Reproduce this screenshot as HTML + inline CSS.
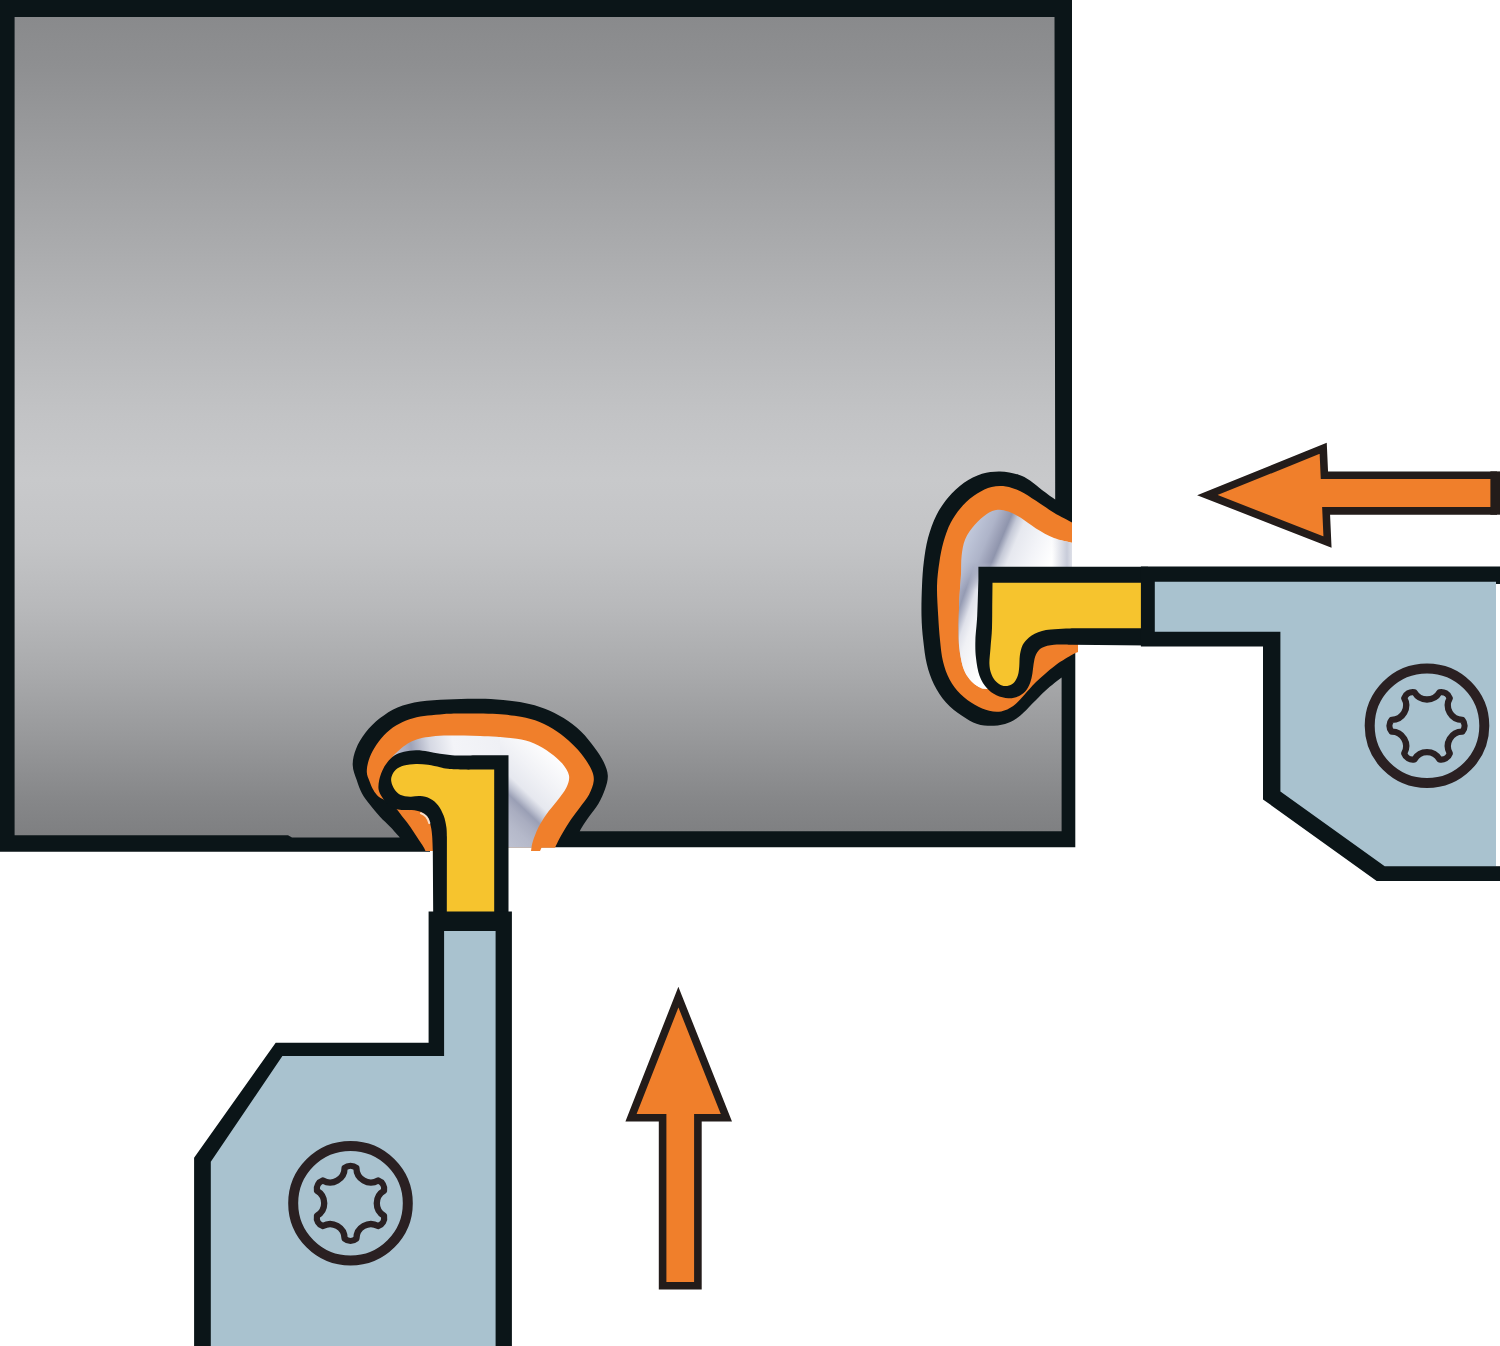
<!DOCTYPE html>
<html><head><meta charset="utf-8"><title>Grooving illustration</title>
<style>
html,body{margin:0;padding:0;background:#ffffff;}
body{width:1500px;height:1346px;overflow:hidden;font-family:"Liberation Sans",sans-serif;}
svg{display:block;}
</style></head>
<body>
<svg width="1500" height="1346" viewBox="0 0 1500 1346">
<defs>
<linearGradient id="wp" gradientUnits="userSpaceOnUse" x1="0" y1="17" x2="0" y2="836"><stop offset="0" stop-color="#898a8c"/><stop offset="0.057" stop-color="#8e8f91"/><stop offset="0.214" stop-color="#a2a3a5"/><stop offset="0.37" stop-color="#b5b6b8"/><stop offset="0.486" stop-color="#c2c3c5"/><stop offset="0.564" stop-color="#c8c9cb"/><stop offset="0.642" stop-color="#c3c4c6"/><stop offset="0.72" stop-color="#b8b9bb"/><stop offset="0.80" stop-color="#a9aaac"/><stop offset="0.877" stop-color="#98999b"/><stop offset="0.955" stop-color="#868789"/><stop offset="1" stop-color="#7e7f81"/></linearGradient>
<linearGradient id="shR" gradientUnits="userSpaceOnUse" x1="960" y1="520" x2="1052.2" y2="558.7"><stop offset="0" stop-color="#ccd4e5"/><stop offset="0.15" stop-color="#bfc6d9"/><stop offset="0.32" stop-color="#aeb4c9"/><stop offset="0.41" stop-color="#9a9fb6"/><stop offset="0.455" stop-color="#8f95ad"/><stop offset="0.52" stop-color="#c5c9d7"/><stop offset="0.60" stop-color="#e6e8ef"/><stop offset="0.8" stop-color="#f3f4f8"/><stop offset="1" stop-color="#ffffff"/></linearGradient>
<linearGradient id="shRl" gradientUnits="userSpaceOnUse" x1="955" y1="590" x2="1002.2" y2="606.45"><stop offset="0" stop-color="#b4bbd0"/><stop offset="0.1" stop-color="#a4aac1"/><stop offset="0.2" stop-color="#959bb3"/><stop offset="0.3" stop-color="#b9bdce"/><stop offset="0.4" stop-color="#dfe1ea"/><stop offset="0.55" stop-color="#f0f1f5"/><stop offset="1" stop-color="#ffffff"/></linearGradient>
<linearGradient id="shR2" gradientUnits="userSpaceOnUse" x1="1052" y1="0" x2="1072" y2="0"><stop offset="0" stop-color="#c2c6d5" stop-opacity="0"/><stop offset="0.75" stop-color="#c2c6d5" stop-opacity="0.9"/><stop offset="1" stop-color="#d5d8e2" stop-opacity="0.8"/></linearGradient>
<linearGradient id="shB" gradientUnits="userSpaceOnUse" x1="560" y1="755" x2="491.2" y2="827.5"><stop offset="0" stop-color="#ffffff"/><stop offset="0.3" stop-color="#f1f2f6"/><stop offset="0.5" stop-color="#e6e8ef"/><stop offset="0.58" stop-color="#bfc3d2"/><stop offset="0.64" stop-color="#9a9fb5"/><stop offset="0.72" stop-color="#a9adc0"/><stop offset="0.85" stop-color="#b5b9ca"/><stop offset="1" stop-color="#bcc0d0"/></linearGradient>
<linearGradient id="shBt" gradientUnits="userSpaceOnUse" x1="385" y1="760" x2="500" y2="740"><stop offset="0" stop-color="#cfd4e2"/><stop offset="0.14" stop-color="#b0b5c8"/><stop offset="0.24" stop-color="#9ea3b8"/><stop offset="0.40" stop-color="#d5d8e3"/><stop offset="0.6" stop-color="#f3f4f8"/><stop offset="1" stop-color="#eff0f5"/></linearGradient>
</defs>
<path fill="#0b1518" d="M0 0 L1072 0 L1072 600 L1075.3 600 L1075.3 847.3 L430 847.2 L430 851.8 L0 851.8 Z"/>
<path fill="url(#wp)" d="M14.6 17 L1054.5 17 L1055.2 499.6 C1053.0 498.0 1046.2 493.2 1042.0 490.0 C1037.8 486.8 1034.0 483.0 1030.0 480.4 C1026.0 477.8 1023.0 475.9 1018.0 474.4 C1013.0 472.9 1006.0 471.5 1000.0 471.4 C994.0 471.3 988.0 471.9 982.0 473.8 C976.0 475.7 969.6 478.9 964.0 482.8 C958.4 486.7 953.0 491.8 948.4 497.2 C943.8 502.6 939.8 508.4 936.4 515.2 C933.0 522.0 930.1 530.2 928.0 538.0 C925.9 545.8 924.8 554.0 923.8 562.0 C922.8 570.0 922.4 577.0 922.0 586.0 C921.6 595.0 921.3 607.0 921.5 616.0 C921.7 625.0 922.3 632.0 923.2 640.0 C924.1 648.0 925.0 656.6 926.8 664.0 C928.6 671.4 930.8 678.0 934.0 684.4 C937.2 690.8 941.4 697.2 946.0 702.4 C950.6 707.6 956.4 712.0 961.6 715.6 C966.8 719.2 971.8 722.3 977.2 724.0 C982.6 725.7 988.8 726.0 994.0 725.8 C999.2 725.6 1004.0 724.5 1008.4 722.8 C1012.8 721.1 1016.4 718.8 1020.4 715.6 C1024.4 712.4 1028.2 707.8 1032.4 703.6 C1036.6 699.4 1040.7 694.8 1045.6 690.4 C1050.5 686.0 1058.9 679.6 1061.6 677.5 L1061.6 831.2 L579.7 831.2 C581.0 828.5 584.6 822.9 587.7 818.4 C590.8 813.9 595.5 808.6 598.4 803.7 C601.3 798.8 603.5 793.7 605.1 789.0 C606.7 784.3 608.0 780.1 607.8 775.6 C607.6 771.1 606.0 766.9 603.8 762.2 C601.6 757.5 598.2 752.6 594.4 747.5 C590.6 742.4 586.1 736.4 581.0 731.5 C575.9 726.6 569.6 721.9 563.6 718.1 C557.6 714.3 551.6 711.3 544.9 708.7 C538.2 706.1 531.5 704.2 523.5 702.7 C515.5 701.2 505.1 700.1 496.8 699.4 C488.5 698.7 482.1 698.7 473.8 698.7 C465.5 698.7 455.9 699.0 447.0 699.4 C438.1 699.8 428.6 700.1 420.3 701.4 C412.1 702.7 404.2 704.6 397.5 707.4 C390.8 710.2 385.5 713.9 380.1 718.1 C374.8 722.3 369.4 727.7 365.4 732.8 C361.4 737.9 358.1 743.5 356.0 748.9 C353.9 754.2 352.6 759.7 352.7 764.9 C352.8 770.1 355.1 775.2 356.7 780.0 C358.2 784.8 359.8 789.3 362.0 793.4 C364.2 797.5 367.0 800.9 370.0 804.8 C373.0 808.7 376.6 813.1 380.0 816.8 C383.4 820.5 386.8 823.3 390.1 826.8 C393.4 830.2 398.2 835.7 399.8 837.5 L292 837.5 L288 835.2 L14.6 835.2 Z"/>
<path fill="#f07f2b" d="M1072.0 522.4 C1069.0 520.8 1060.0 516.4 1054.0 512.8 C1048.0 509.2 1041.6 504.4 1036.0 500.8 C1030.4 497.2 1025.4 493.6 1020.4 491.2 C1015.4 488.8 1010.8 487.1 1006.0 486.4 C1001.2 485.7 996.4 485.8 991.6 487.0 C986.8 488.2 982.0 490.5 977.2 493.6 C972.4 496.7 967.2 500.8 962.8 505.6 C958.4 510.4 954.0 516.4 950.8 522.4 C947.6 528.4 945.5 535.0 943.6 541.6 C941.7 548.2 940.5 554.6 939.4 562.0 C938.3 569.4 937.2 577.0 937.0 586.0 C936.8 595.0 937.7 607.0 938.2 616.0 C938.7 625.0 939.2 632.4 940.0 640.0 C940.8 647.6 941.4 655.0 943.0 661.6 C944.6 668.2 946.7 674.2 949.6 679.6 C952.5 685.0 956.2 689.8 960.4 694.0 C964.6 698.2 970.0 702.0 974.8 704.8 C979.6 707.6 984.8 709.7 989.2 710.8 C993.6 711.9 997.2 712.2 1001.2 711.4 C1005.2 710.6 1009.4 708.7 1013.2 706.0 C1017.0 703.3 1020.2 699.2 1024.0 695.2 C1027.8 691.2 1031.0 686.8 1036.0 682.0 C1041.0 677.2 1048.2 670.8 1054.0 666.4 C1059.8 662.0 1066.8 658.0 1070.8 655.6 C1074.8 653.2 1076.8 652.6 1078.0 652.0 L1078 600 L1072 600 Z"/>
<path fill="#f07f2b" d="M425.5 851.0 C425.2 850.3 424.9 849.3 423.5 846.9 C422.1 844.5 419.0 840.1 416.8 836.8 C414.6 833.4 412.4 829.9 410.2 826.8 C408.0 823.7 405.9 821.1 403.5 818.1 C401.1 815.1 398.8 811.3 396.0 808.5 C393.2 805.7 389.9 803.5 387.0 801.5 C384.1 799.5 381.0 798.6 378.7 796.7 C376.4 794.8 374.9 792.6 373.4 790.0 C371.8 787.4 370.5 784.0 369.4 781.0 C368.3 778.0 366.9 775.5 366.8 772.0 C366.7 768.5 367.5 764.0 368.8 760.0 C370.1 756.0 371.9 752.1 374.4 748.0 C376.9 743.9 380.4 738.9 384.0 735.2 C387.6 731.5 391.7 728.3 396.0 725.6 C400.3 722.9 404.9 720.8 409.6 719.2 C414.3 717.6 418.9 716.8 424.0 716.0 C429.1 715.2 434.0 714.8 440.0 714.4 C446.0 714.0 450.5 713.6 460.0 713.6 C469.5 713.6 486.7 713.6 496.8 714.1 C506.9 714.6 513.7 715.5 520.8 716.8 C527.9 718.1 533.6 719.6 539.6 722.1 C545.6 724.6 551.6 727.9 557.0 731.5 C562.4 735.1 567.2 739.3 571.7 743.5 C576.2 747.7 580.4 752.4 583.7 756.9 C587.0 761.4 590.0 766.3 591.7 770.3 C593.4 774.3 594.1 777.0 593.7 781.0 C593.3 785.0 591.4 789.9 589.1 794.4 C586.8 798.9 583.1 803.0 579.7 807.7 C576.4 812.4 572.1 817.7 569.0 822.4 C565.9 827.1 563.2 831.8 561.0 835.8 C558.8 839.8 556.6 844.5 555.6 846.5 C554.6 848.5 555.3 847.3 555.2 847.5 L541.5 847.8 L540 851 L531 851 L531.5 847.3 L433 847.3 L433 851 Z"/>
<linearGradient id="mRg" gradientUnits="userSpaceOnUse" x1="0" y1="562" x2="0" y2="590"><stop offset="0" stop-color="#000"/><stop offset="1" stop-color="#fff"/></linearGradient>
<mask id="mR" maskUnits="userSpaceOnUse" x="900" y="480" width="200" height="260"><rect x="900" y="480" width="200" height="260" fill="url(#mRg)"/></mask>
<path fill="url(#shR)" d="M1072.0 542.8 C1069.0 542.0 1060.0 540.4 1054.0 538.0 C1048.0 535.6 1041.6 531.8 1036.0 528.4 C1030.4 525.0 1025.0 520.4 1020.4 517.6 C1015.8 514.8 1012.2 512.9 1008.4 511.6 C1004.6 510.3 1001.2 509.4 997.6 509.8 C994.0 510.2 990.6 511.5 986.8 514.0 C983.0 516.5 978.4 520.6 974.8 524.8 C971.2 529.0 967.4 534.0 965.2 539.2 C963.0 544.4 962.3 550.2 961.6 556.0 C960.9 561.8 961.3 568.0 961.0 574.0 C960.7 580.0 960.1 587.0 959.8 592.0 C959.5 597.0 959.4 598.0 959.2 604.0 C959.0 610.0 958.6 620.8 958.6 628.0 C958.6 635.2 958.5 640.8 959.2 647.2 C959.9 653.6 961.3 661.4 962.8 666.4 C964.3 671.4 966.0 674.0 968.0 677.0 C970.0 680.0 972.7 682.6 975.0 684.5 C977.3 686.4 980.8 687.8 982.0 688.5 L988 689 L985 600 L1072 600 Z"/>
<path fill="url(#shRl)" mask="url(#mR)" d="M1072.0 542.8 C1069.0 542.0 1060.0 540.4 1054.0 538.0 C1048.0 535.6 1041.6 531.8 1036.0 528.4 C1030.4 525.0 1025.0 520.4 1020.4 517.6 C1015.8 514.8 1012.2 512.9 1008.4 511.6 C1004.6 510.3 1001.2 509.4 997.6 509.8 C994.0 510.2 990.6 511.5 986.8 514.0 C983.0 516.5 978.4 520.6 974.8 524.8 C971.2 529.0 967.4 534.0 965.2 539.2 C963.0 544.4 962.3 550.2 961.6 556.0 C960.9 561.8 961.3 568.0 961.0 574.0 C960.7 580.0 960.1 587.0 959.8 592.0 C959.5 597.0 959.4 598.0 959.2 604.0 C959.0 610.0 958.6 620.8 958.6 628.0 C958.6 635.2 958.5 640.8 959.2 647.2 C959.9 653.6 961.3 661.4 962.8 666.4 C964.3 671.4 966.0 674.0 968.0 677.0 C970.0 680.0 972.7 682.6 975.0 684.5 C977.3 686.4 980.8 687.8 982.0 688.5 L988 689 L985 600 L1072 600 Z"/>
<path fill="url(#shR2)" d="M1072.0 542.8 C1069.0 542.0 1060.0 540.4 1054.0 538.0 C1048.0 535.6 1041.6 531.8 1036.0 528.4 C1030.4 525.0 1025.0 520.4 1020.4 517.6 C1015.8 514.8 1012.2 512.9 1008.4 511.6 C1004.6 510.3 1001.2 509.4 997.6 509.8 C994.0 510.2 990.6 511.5 986.8 514.0 C983.0 516.5 978.4 520.6 974.8 524.8 C971.2 529.0 967.4 534.0 965.2 539.2 C963.0 544.4 962.3 550.2 961.6 556.0 C960.9 561.8 961.3 568.0 961.0 574.0 C960.7 580.0 960.1 587.0 959.8 592.0 C959.5 597.0 959.4 598.0 959.2 604.0 C959.0 610.0 958.6 620.8 958.6 628.0 C958.6 635.2 958.5 640.8 959.2 647.2 C959.9 653.6 961.3 661.4 962.8 666.4 C964.3 671.4 966.0 674.0 968.0 677.0 C970.0 680.0 972.7 682.6 975.0 684.5 C977.3 686.4 980.8 687.8 982.0 688.5 L988 689 L985 600 L1072 600 Z"/>
<clipPath id="cBt"><rect x="370" y="700" width="131" height="160"/></clipPath>
<clipPath id="cBr"><rect x="500" y="700" width="100" height="160"/></clipPath>
<path fill="url(#shBt)" clip-path="url(#cBt)" d="M392.0 758.0 C392.4 757.4 392.8 756.3 394.4 754.6 C396.0 752.9 399.1 750.0 401.6 748.0 C404.1 746.0 406.5 744.0 409.6 742.4 C412.7 740.8 416.3 739.4 420.0 738.4 C423.7 737.4 427.3 736.9 432.0 736.4 C436.7 735.9 442.7 735.7 448.0 735.6 C453.3 735.5 458.7 735.5 464.0 735.6 C469.3 735.7 474.5 735.8 480.0 736.0 C485.5 736.2 490.7 736.3 496.8 736.8 C502.9 737.3 510.6 737.7 516.8 738.8 C523.0 739.9 528.6 741.1 534.2 743.5 C539.8 745.9 545.6 749.5 550.3 752.9 C555.0 756.2 559.2 759.8 562.3 763.6 C565.4 767.4 568.3 771.6 569.0 775.6 C569.7 779.6 568.3 783.5 566.3 787.7 C564.3 791.9 560.3 796.5 557.0 801.0 C553.7 805.5 549.4 809.9 546.3 814.4 C543.2 818.9 540.4 823.3 538.2 827.8 C536.0 832.3 534.0 837.9 532.9 841.2 C531.8 844.5 531.7 846.5 531.5 847.5 L500 847.5 L500 770 L400 770 Z"/>
<path fill="url(#shB)" clip-path="url(#cBr)" d="M392.0 758.0 C392.4 757.4 392.8 756.3 394.4 754.6 C396.0 752.9 399.1 750.0 401.6 748.0 C404.1 746.0 406.5 744.0 409.6 742.4 C412.7 740.8 416.3 739.4 420.0 738.4 C423.7 737.4 427.3 736.9 432.0 736.4 C436.7 735.9 442.7 735.7 448.0 735.6 C453.3 735.5 458.7 735.5 464.0 735.6 C469.3 735.7 474.5 735.8 480.0 736.0 C485.5 736.2 490.7 736.3 496.8 736.8 C502.9 737.3 510.6 737.7 516.8 738.8 C523.0 739.9 528.6 741.1 534.2 743.5 C539.8 745.9 545.6 749.5 550.3 752.9 C555.0 756.2 559.2 759.8 562.3 763.6 C565.4 767.4 568.3 771.6 569.0 775.6 C569.7 779.6 568.3 783.5 566.3 787.7 C564.3 791.9 560.3 796.5 557.0 801.0 C553.7 805.5 549.4 809.9 546.3 814.4 C543.2 818.9 540.4 823.3 538.2 827.8 C536.0 832.3 534.0 837.9 532.9 841.2 C531.8 844.5 531.7 846.5 531.5 847.5 L500 847.5 L500 770 L400 770 Z"/>
<path fill="#0b1518" d="M1148 566.8 L978.4 566.8 L978.4 580 C978.2 586.0 977.7 606.0 977.2 616.0 C976.7 626.0 975.6 633.0 975.4 640.0 C975.2 647.0 975.3 652.0 976.0 658.0 C976.7 664.0 977.8 671.0 979.6 676.0 C981.4 681.0 984.0 684.8 986.8 688.0 C989.6 691.2 992.8 693.5 996.4 695.2 C1000.0 696.9 1004.8 698.0 1008.4 698.2 C1012.0 698.4 1015.2 697.5 1018.0 696.4 C1020.8 695.3 1023.2 693.8 1025.2 691.6 C1027.2 689.4 1028.8 686.2 1030.0 683.2 C1031.2 680.2 1031.8 676.8 1032.4 673.6 C1033.0 670.4 1033.0 667.2 1033.6 664.0 C1034.2 660.8 1034.6 657.1 1036.0 654.4 C1037.4 651.7 1039.0 649.4 1042.0 647.8 C1045.0 646.2 1049.0 645.3 1054.0 644.8 C1059.0 644.3 1069.0 644.8 1072.0 644.8 L1148 645.5 Z"/>
<path fill="#f6c42e" d="M1141 582.8 L992.5 582.8 L992.3 600 C992.2 604.7 992.3 620.0 992.0 628.0 C991.7 636.0 990.9 642.1 990.5 648.0 C990.1 653.9 989.3 659.2 989.4 663.4 C989.5 667.6 990.1 670.1 991.0 673.0 C991.9 675.9 993.2 678.4 995.0 680.5 C996.8 682.6 999.7 684.7 1002.0 685.5 C1004.3 686.3 1006.9 686.1 1009.0 685.5 C1011.1 684.9 1013.0 683.8 1014.5 682.0 C1016.0 680.2 1017.2 677.7 1018.0 675.0 C1018.8 672.3 1019.0 669.2 1019.3 666.0 C1019.6 662.8 1019.4 659.0 1019.8 656.0 C1020.2 653.0 1020.8 650.2 1021.5 648.0 C1022.2 645.8 1023.0 644.4 1024.3 642.6 C1025.5 640.9 1027.3 639.0 1029.0 637.5 C1030.7 636.0 1032.5 634.8 1034.7 633.7 C1036.9 632.6 1039.3 631.7 1042.0 631.0 C1044.7 630.3 1047.0 630.0 1051.0 629.6 C1055.0 629.2 1061.2 628.8 1066.0 628.6 C1070.8 628.4 1077.7 628.3 1080.0 628.3 L1141 628.3 Z"/>
<path fill="#0b1518" d="M508.5 915 L508.5 755.2 L480 755.3 C477.3 755.3 468.7 755.5 464.0 755.5 C459.3 755.5 456.0 755.5 452.0 755.2 C448.0 754.9 444.0 754.4 440.0 753.8 C436.0 753.2 432.0 752.0 428.0 751.4 C424.0 750.8 420.0 750.1 416.0 750.2 C412.0 750.3 407.6 750.9 404.0 751.8 C400.4 752.7 397.2 753.8 394.4 755.6 C391.6 757.4 389.2 759.9 387.2 762.4 C385.2 764.9 383.7 767.5 382.4 770.4 C381.1 773.3 379.8 776.8 379.2 780.0 C378.6 783.2 378.1 786.7 378.6 789.5 C379.1 792.3 380.6 794.7 382.0 797.0 C383.4 799.3 385.1 801.6 387.0 803.5 C388.9 805.4 391.2 807.2 393.4 808.3 C395.6 809.3 397.8 809.5 400.0 809.8 C402.2 810.1 404.0 809.9 406.8 810.1 C409.6 810.3 414.0 810.2 416.8 810.8 C419.6 811.3 421.6 812.2 423.5 813.4 C425.4 814.6 427.0 815.9 428.2 818.1 C429.4 820.3 430.2 823.7 430.9 826.8 C431.6 829.9 431.9 832.9 432.2 836.8 C432.5 840.7 432.7 848.0 432.8 850.2 L433.2 915 Z"/>
<path fill="#f6c42e" d="M494.2 917.2 L494.2 769.4 L475 769.6 C473.2 769.6 468.5 769.7 464.0 769.6 C459.5 769.5 452.0 769.2 448.0 768.8 C444.0 768.4 443.3 767.9 440.0 767.2 C436.7 766.5 432.0 765.3 428.0 764.8 C424.0 764.3 420.0 763.9 416.0 764.0 C412.0 764.1 407.3 764.7 404.0 765.6 C400.7 766.5 398.0 767.9 396.0 769.6 C394.0 771.3 392.6 773.9 391.8 776.0 C391.0 778.1 391.0 779.9 391.4 782.0 C391.8 784.1 392.7 786.6 394.1 788.7 C395.6 790.8 397.4 793.4 400.1 794.7 C402.8 796.0 406.9 796.5 410.2 796.7 C413.5 796.9 416.9 795.8 420.2 796.1 C423.5 796.4 427.2 797.2 430.2 798.7 C433.2 800.2 436.0 802.6 438.2 805.4 C440.4 808.2 442.2 811.9 443.6 815.5 C445.0 819.1 445.8 823.2 446.3 826.8 C446.9 830.3 446.8 835.1 446.9 836.8 L446.8 917.2 Z"/>
<path d="M421 813.3 Q427.2 815.2 429.3 823" fill="none" stroke="#ffffff" stroke-opacity="0.75" stroke-width="2.2" stroke-linecap="round"/>
<path fill="#0b1518" d="M428.6 911.5 L511.9 911.5 L511.9 1346 L194.1 1346 L194.1 1157.8 L275.7 1042.7 L428.6 1042.7 Z"/>
<path fill="#a9c2cf" d="M444.1 931.1 L495.6 931.1 L495.6 1346 L210.8 1346 L210.8 1161.8 L282.4 1056.1 L444.1 1056.1 Z"/>
<path fill="#0b1518" d="M1140.9 566.5 L1500 566.5 L1500 881 L1376.7 881 L1263 799.4 L1263 646.4 L1140.9 646.4 Z"/>
<path fill="#a9c2cf" d="M1154.8 581.8 L1496 581.8 L1496 866.2 L1384.7 866.2 L1280.4 791.4 L1280.4 631.7 L1154.8 631.7 Z"/>
<rect x="1496" y="584" width="4" height="282.2" fill="#ffffff"/>
<circle cx="1427" cy="725.8" r="57.3" fill="none" stroke="#2a2022" stroke-width="10"/>
<path d="M1462.31 719.89 A9.00 9.00 0 0 1 1462.31 731.71 A14.48 14.48 0 0 0 1449.77 753.42 A9.00 9.00 0 0 1 1439.54 759.33 A14.48 14.48 0 0 0 1414.46 759.33 A9.00 9.00 0 0 1 1404.23 753.42 A14.48 14.48 0 0 0 1391.69 731.71 A9.00 9.00 0 0 1 1391.69 719.89 A14.48 14.48 0 0 0 1404.23 698.18 A9.00 9.00 0 0 1 1414.46 692.27 A14.48 14.48 0 0 0 1439.54 692.27 A9.00 9.00 0 0 1 1449.77 698.18 A14.48 14.48 0 0 0 1462.31 719.89 Z" fill="none" stroke="#2a2022" stroke-width="6.3" stroke-linejoin="round"/>
<circle cx="350.5" cy="1203.3" r="57.3" fill="none" stroke="#2a2022" stroke-width="10"/>
<path d="M384.03 1215.84 A9.00 9.00 0 0 1 378.12 1226.07 A14.48 14.48 0 0 0 356.41 1238.61 A9.00 9.00 0 0 1 344.59 1238.61 A14.48 14.48 0 0 0 322.88 1226.07 A9.00 9.00 0 0 1 316.97 1215.84 A14.48 14.48 0 0 0 316.97 1190.76 A9.00 9.00 0 0 1 322.88 1180.53 A14.48 14.48 0 0 0 344.59 1167.99 A9.00 9.00 0 0 1 356.41 1167.99 A14.48 14.48 0 0 0 378.12 1180.53 A9.00 9.00 0 0 1 384.03 1190.76 A14.48 14.48 0 0 0 384.03 1215.84 Z" fill="none" stroke="#2a2022" stroke-width="6.3" stroke-linejoin="round"/>
<path d="M678.4 997.1 L726.4 1117.8 L697.9 1117.8 L697.9 1285.8 L662.6 1285.8 L662.6 1117.8 L631 1117.8 Z" fill="#f07f2b" stroke="#231c1a" stroke-width="7.6" stroke-linejoin="miter" stroke-miterlimit="10"/>
<path d="M1497 475.2 L1324.4 475.2 L1323.2 448.3 L1207.4 495.1 L1327.5 542.1 L1326.1 510.9 L1497 510.9" fill="#f07f2b" stroke="#231c1a" stroke-width="7.6" stroke-linejoin="miter" stroke-miterlimit="10"/>
<rect x="1490.4" y="471.4" width="9.6" height="43.3" fill="#231c1a"/>
</svg>
</body></html>
